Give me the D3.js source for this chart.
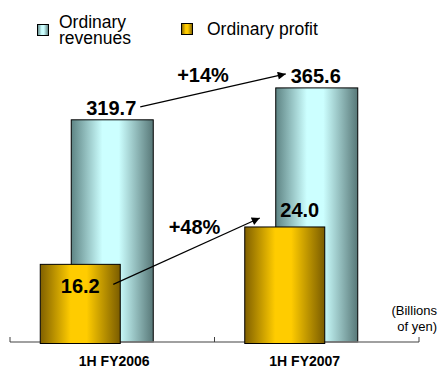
<!DOCTYPE html>
<html>
<head>
<meta charset="utf-8">
<script src="https://cdn.jsdelivr.net/npm/d3@7/dist/d3.min.js"></script>
<style>
  html, body { margin: 0; padding: 0; background: #fff; }
  svg { display: block; font-family: "Liberation Sans", Arial, sans-serif; }
</style>
</head>
<body>
<svg id="chart" width="438" height="367"></svg>
<script>
// Half-year results (billions of yen)
const periods = ["1H FY2006", "1H FY2007"];
const revenues = [319.7, 365.6];
const profits = [16.2, 24.0];
const growthLabels = ["+14%", "+48%"];
const seriesNames = ["Ordinary revenues", "Ordinary profit"];
const unitLines = ["(Billions", "of yen)"];

const svg = d3.select("#chart");
const baseY = 342;
const topY = 64;

const x = d3.scaleBand().domain(periods).range([10, 419]).padding(0);
const yRev = d3.scaleLinear().domain([0, 400]).range([baseY, topY]);
const yPro = d3.scaleLinear().domain([0, 58]).range([baseY, topY]);

const defs = svg.append("defs");
function cylinder(id, edgeL, mid, edgeR) {
  const g = defs.append("linearGradient").attr("id", id)
    .attr("x1", "0%").attr("x2", "100%").attr("y1", "0%").attr("y2", "0%");
  g.append("stop").attr("offset", "0%").attr("stop-color", edgeL);
  g.append("stop").attr("offset", "38%").attr("stop-color", mid);
  g.append("stop").attr("offset", "58%").attr("stop-color", mid);
  g.append("stop").attr("offset", "100%").attr("stop-color", edgeR);
}
cylinder("gRev", "#5e8484", "#ccffff", "#587878");
cylinder("gPro", "#806000", "#ffcc00", "#7a5c00");

const revW = 82, proW = 80, proOffset = -32;
const cx = d => x(d) + x.bandwidth() / 2;

// Revenue columns (behind)
svg.append("g").selectAll("rect").data(periods).join("rect")
  .attr("x", d => cx(d) - revW / 2)
  .attr("y", (d, i) => yRev(revenues[i]))
  .attr("width", revW)
  .attr("height", (d, i) => baseY - yRev(revenues[i]))
  .attr("fill", "url(#gRev)")
  .attr("stroke", "#000").attr("stroke-width", 1);

// Axis
const axis = svg.append("g");
axis.append("line").attr("x1", 10).attr("x2", 419).attr("y1", baseY).attr("y2", baseY)
  .attr("stroke", "#808080").attr("stroke-width", 1.5);
const tickXs = [10, ...periods.slice(1).map(d => x(d)), 419];
axis.selectAll("line.tick").data(tickXs).join("line").attr("class", "tick")
  .attr("x1", d => d).attr("x2", d => d).attr("y1", baseY - 5).attr("y2", baseY)
  .attr("stroke", "#404040").attr("stroke-width", 1);

// Profit columns (front)
svg.append("g").selectAll("rect").data(periods).join("rect")
  .attr("x", d => cx(d) + proOffset - proW / 2)
  .attr("y", (d, i) => yPro(profits[i]))
  .attr("width", proW)
  .attr("height", (d, i) => baseY + 1.5 - yPro(profits[i]))
  .attr("fill", "url(#gPro)")
  .attr("stroke", "#000").attr("stroke-width", 1);

// Value labels
const bold = sel => sel.attr("font-weight", "bold").attr("fill", "#000").attr("text-anchor", "middle");
svg.append("g").selectAll("text").data(periods).join("text").call(bold)
  .attr("font-size", 20)
  .attr("x", d => cx(d) - 1)
  .attr("y", (d, i) => yRev(revenues[i]) - 5)
  .text((d, i) => revenues[i].toFixed(1));

const proLabelDx = [0, 15];
const proLabelDy = [29, -10];
svg.append("g").selectAll("text").data(periods).join("text").call(bold)
  .attr("font-size", 20)
  .attr("x", (d, i) => cx(d) + proOffset + proLabelDx[i])
  .attr("y", (d, i) => yPro(profits[i]) + proLabelDy[i])
  .text((d, i) => profits[i].toFixed(1));

// Growth arrows
const marker = defs.append("marker").attr("id", "arrow")
  .attr("viewBox", "0 0 10 10").attr("refX", 10).attr("refY", 5)
  .attr("markerWidth", 11).attr("markerHeight", 8).attr("markerUnits", "userSpaceOnUse")
  .attr("orient", "auto");
marker.append("path").attr("d", "M0,0L10,5L0,10Z").attr("fill", "#000");

const c0 = cx(periods[0]), c1 = cx(periods[1]);
const arrows = [
  { x1: c0 + 28, y1: yRev(revenues[0]) - 13, x2: c1 - 31, y2: yRev(revenues[1]) - 14 },
  { x1: c0 + proOffset + 33, y1: yPro(profits[0]) + 20, x2: c1 + proOffset - 25, y2: yPro(profits[1]) - 9 }
];
svg.append("g").selectAll("line").data(arrows).join("line")
  .attr("x1", d => d.x1).attr("y1", d => d.y1).attr("x2", d => d.x2).attr("y2", d => d.y2)
  .attr("stroke", "#000").attr("stroke-width", 1.2).attr("marker-end", "url(#arrow)");

const growthPos = [
  { x: (arrows[0].x1 + arrows[0].x2) / 2 - 10, y: 82 },
  { x: (arrows[1].x1 + arrows[1].x2) / 2 + 8, y: 234 }
];
svg.append("g").selectAll("text").data(growthLabels).join("text").call(bold)
  .attr("font-size", 20)
  .attr("x", (d, i) => growthPos[i].x).attr("y", (d, i) => growthPos[i].y)
  .text(d => d);

// Category labels
const catDx = [2, -12];
svg.append("g").selectAll("text").data(periods).join("text").call(bold)
  .attr("font-size", 14)
  .attr("x", (d, i) => cx(d) + catDx[i])
  .attr("y", 365.5)
  .text(d => d);

// Unit note
svg.append("text").attr("text-anchor", "end").attr("font-size", 13).attr("fill", "#000")
  .selectAll("tspan").data(unitLines).join("tspan")
  .attr("x", 437).attr("y", (d, i) => 315 + i * 15.5).text(d => d);

// Legend
const legend = svg.append("g");
legend.append("rect").attr("x", 37.5).attr("y", 24.5).attr("width", 11).attr("height", 11)
  .attr("fill", "url(#gRev)").attr("stroke", "#000").attr("stroke-width", 1);
legend.append("text").attr("font-size", 17.5).attr("fill", "#000")
  .selectAll("tspan").data(["Ordinary", "revenues"]).join("tspan")
  .attr("x", 59).attr("y", (d, i) => 27.5 + i * 16).text(d => d);
legend.append("rect").attr("x", 181.5).attr("y", 23.5).attr("width", 11).attr("height", 11)
  .attr("fill", "url(#gPro)").attr("stroke", "#000").attr("stroke-width", 1);
legend.append("text").attr("font-size", 17.5).attr("fill", "#000")
  .attr("x", 207).attr("y", 35.3).text(seriesNames[1]);
</script>
</body>
</html>
